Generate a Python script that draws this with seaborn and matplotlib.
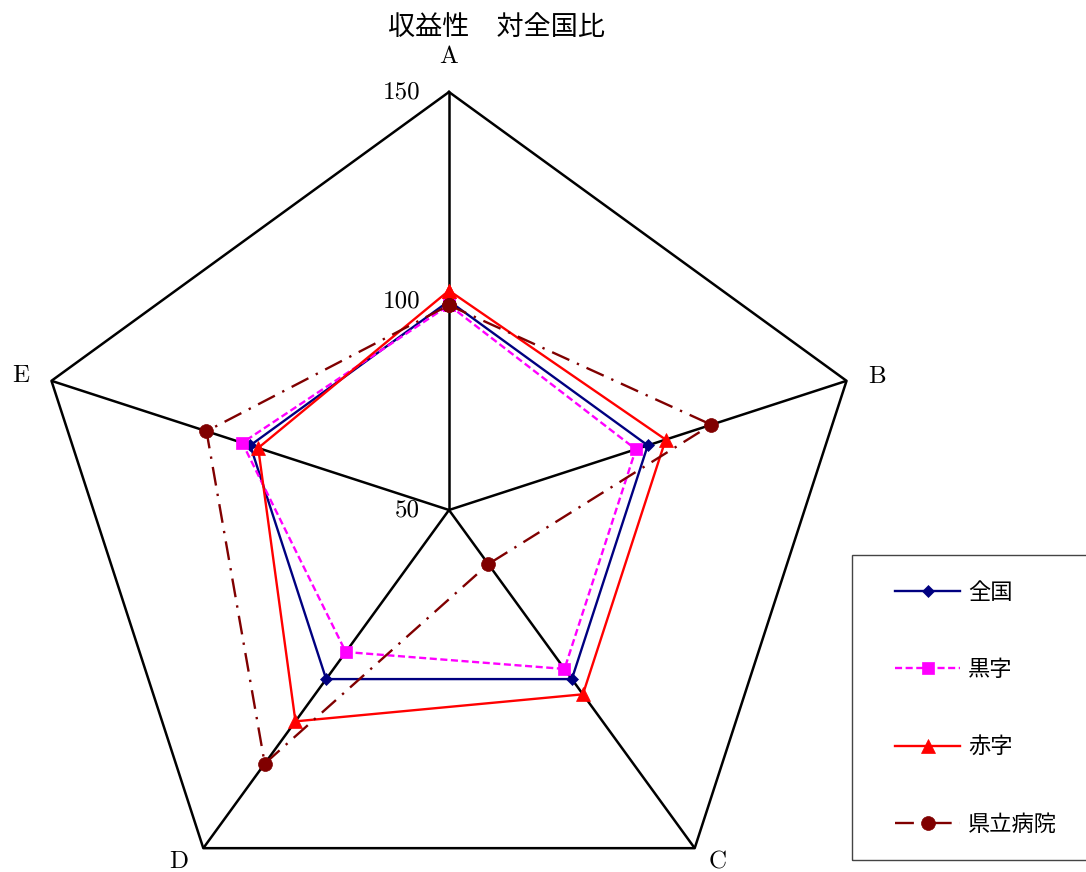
import numpy as np
import pandas as pd
import matplotlib
matplotlib.use('Agg')
import matplotlib.pyplot as plt
import seaborn as sns
from matplotlib.patches import Rectangle
from matplotlib.lines import Line2D

# ---- data ----
categories = ['A', 'B', 'C', 'D', 'E']
zenkoku = [100, 100, 100, 100, 100]
kuroji = [99, 97, 97, 92, 102]
akaji = [102.5, 104.5, 104.5, 112.5, 98]
kenritsu = [99, 116, 66, 125, 111]
series_names = ['全国', '黒字', '赤字', '県立病院']
r_ticks = [50, 100, 150]
title = '収益性\u3000対全国比'

plt.rcParams['font.family'] = ['cmr10', 'Noto Sans CJK JP']
plt.rcParams['axes.unicode_minus'] = False
plt.rcParams['axes.formatter.use_mathtext'] = True

W, H = 1086, 872
fig = plt.figure(figsize=(W / 100, H / 100), dpi=100)
cx, cy, R = 449, 510, 418
ax = fig.add_axes([(cx - R) / W, (H - cy - R) / H, 2 * R / W, 2 * R / H], projection='polar')
ax.set_theta_zero_location('N')
ax.set_theta_direction(-1)
ax.set_ylim(r_ticks[0], r_ticks[-1])
ax.grid(False)
ax.spines['polar'].set_visible(False)
ax.patch.set_visible(False)

n = len(categories)
theta = np.linspace(0, 2 * np.pi, n, endpoint=False)
tc = np.append(theta, theta[0])

# spokes and outer pentagon
for t in theta:
    ax.plot([t, t], [r_ticks[0], r_ticks[-1]], color='black', lw=1.8, zorder=1,
            solid_capstyle='butt')
ax.plot(tc, [r_ticks[-1]] * (n + 1), color='black', lw=1.8, zorder=1, clip_on=False)

styles = [
    dict(color='#000080', marker='D', markersize=6.5, linestyle='-'),
    dict(color='#FF00FF', marker='s', markersize=9, linestyle=(0, (3, 1.5))),
    dict(color='#FF0000', marker='^', markersize=10, linestyle='-'),
    dict(color='#800000', marker='o', markersize=10, linestyle=(0, (8, 3.5, 1, 3.5))),
]
all_vals = [zenkoku, kuroji, akaji, kenritsu]

handles = []
for name, vals, st in zip(series_names, all_vals, styles):
    df = pd.DataFrame({'theta': tc, 'value': list(vals) + [vals[0]]})
    sns.lineplot(data=df, x='theta', y='value', sort=False, estimator=None, ax=ax,
                 color=st['color'], marker=st['marker'], markersize=st['markersize'],
                 linestyle=st['linestyle'], lw=1.7, mec=st['color'], mew=0.5,
                 legend=False, zorder=3, clip_on=False)
    handles.append(Line2D([], [], color=st['color'], marker=st['marker'],
                          markersize=st['markersize'], linestyle=st['linestyle'],
                          lw=1.7, mec=st['color'], mew=0.5))

ax.set_xlabel('')
ax.set_ylabel('')
ax.set_xticks([])
ax.set_yticks([])

# radial value labels
for r in r_ticks:
    ax.annotate(str(r), xy=(0, r), xytext=(-29, 0), textcoords='offset pixels',
                ha='right', va='center', fontsize=18)

# category labels
label_offsets = [(0, 35), (30, 4), (23, -14), (-25, -14), (-31, 5)]
for t, lab, off in zip(theta, categories, label_offsets):
    ax.annotate(lab, xy=(t, r_ticks[-1]), xytext=off, textcoords='offset pixels',
                ha='center', va='center', fontsize=18, annotation_clip=False)

fig.text(497 / W, 1 - 28 / H, title, ha='center', va='center', fontsize=19.5)

# legend
fig.add_artist(Rectangle((852 / W, 1 - 860 / H), (1100 - 852) / W, (860 - 555) / H,
                         transform=fig.transFigure, fill=False, edgecolor='#444444', lw=1))
fig.legend(handles, series_names, loc='upper left',
           bbox_to_anchor=(895 / W, 1 - 582 / H), frameon=False, fontsize=16,
           handlelength=2.93, handletextpad=0.36, labelspacing=2.55,
           borderaxespad=0, borderpad=0, numpoints=1)

fig.savefig('out.png', dpi=100)
